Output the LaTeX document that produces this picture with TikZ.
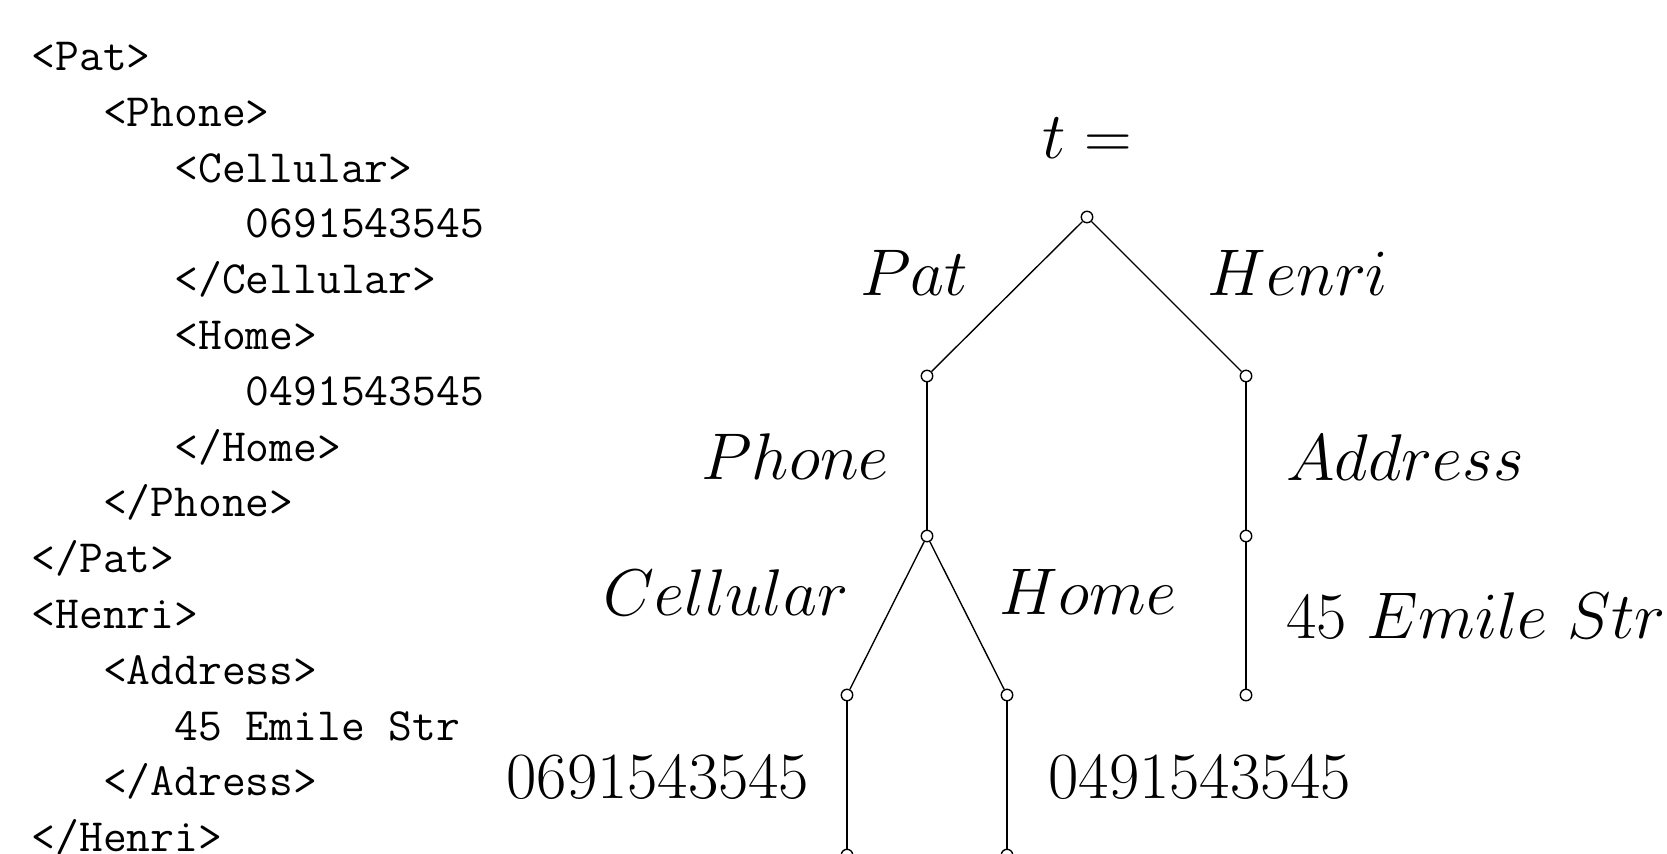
\documentclass[tikz,border=0pt]{standalone}
\begin{document}
\begin{tikzpicture}[
  x=0.2618pt, y=-0.2618pt,
  vertex/.style={circle, draw, fill=white, inner sep=0pt, minimum size=3pt, line width=0.36pt},
  edge/.style={line width=0.36pt},
  code/.style={anchor=base west, inner sep=0pt, font=\fontsize{12.1pt}{14.5pt}\selectfont\ttfamily},
  lab/.style={anchor=base, inner sep=0pt, font=\LARGE}
]
\useasboundingbox (0,0) rectangle (1667,853);

% XML source, one line per node
\def\ind{23.8}
\def\lsk{55.8}
\node[code] (c1)  at (31+0*\ind, 70.5+0*\lsk)  {<Pat>};
\node[code] (c2)  at (31+3*\ind, 70.5+1*\lsk)  {<Phone>};
\node[code] (c3)  at (31+6*\ind, 70.5+2*\lsk)  {<Cellular>};
\node[code] (c4)  at (31+9*\ind, 70.5+3*\lsk)  {0691543545};
\node[code] (c5)  at (31+6*\ind, 70.5+4*\lsk)  {</Cellular>};
\node[code] (c6)  at (31+6*\ind, 70.5+5*\lsk)  {<Home>};
\node[code] (c7)  at (31+9*\ind, 70.5+6*\lsk)  {0491543545};
\node[code] (c8)  at (31+6*\ind, 70.5+7*\lsk)  {</Home>};
\node[code] (c9)  at (31+3*\ind, 70.5+8*\lsk)  {</Phone>};
\node[code] (c10) at (31+0*\ind, 70.5+9*\lsk)  {</Pat>};
\node[code] (c11) at (31+0*\ind, 70.5+10*\lsk) {<Henri>};
\node[code] (c12) at (31+3*\ind, 70.5+11*\lsk) {<Address>};
\node[code] (c13) at (31+6*\ind, 70.5+12*\lsk) {45 Emile Str};
\node[code] (c14) at (31+3*\ind, 70.5+13*\lsk) {</Adress>};
\node[code] (c15) at (31+0*\ind, 70.5+14*\lsk) {</Henri>};

% tree vertices
\node[vertex] (root) at (1087,217) {};
\node[vertex] (pat)  at (927,376)  {};
\node[vertex] (hen)  at (1246,376) {};
\node[vertex] (pho)  at (927,536)  {};
\node[vertex] (adr)  at (1246,536) {};
\node[vertex] (cel)  at (847,695)  {};
\node[vertex] (hom)  at (1007,695) {};
\node[vertex] (emi)  at (1246,695) {};
\node[vertex] (celv) at (847,855)  {};
\node[vertex] (homv) at (1007,855) {};

% tree edges
\draw[edge] (root) -- (pat);
\draw[edge] (root) -- (hen);
\draw[edge] (pat) -- (pho);
\draw[edge] (hen) -- (adr);
\draw[edge] (pho) -- (cel);
\draw[edge] (pho) -- (hom);
\draw[edge] (adr) -- (emi);
\draw[edge] (cel) -- (celv);
\draw[edge] (hom) -- (homv);

% edge labels
\node[lab] (tlab) at (1087,158)   {$t =$};
\node[lab] (lpat) at (914,295)    {$Pat$};
\node[lab] (lhen) at (1298,295)   {$Henri$};
\node[lab] (lpho) at (795,479)    {$Phone$};
\node[lab] (ladr) at (1405,480)   {$Address$};
\node[lab] (lcel) at (726,615)    {$Cellular$};
\node[lab] (lhom) at (1088,614)   {$Home$};
\node[lab] (lemi) at (1476,638)   {$45\ Emile\ Str$};
\node[lab] (lcv)  at (658,798)    {$0691543545$};
\node[lab] (lhv)  at (1200,798)   {$0491543545$};
\end{tikzpicture}
\end{document}
